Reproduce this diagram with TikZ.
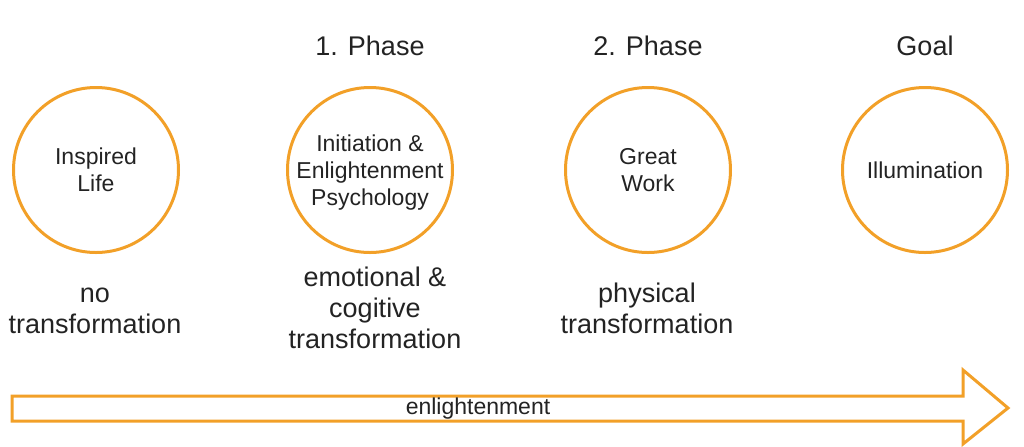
\documentclass[tikz,border=0pt]{standalone}
\usepackage{fontspec}
\setmainfont{Liberation Sans}
\usetikzlibrary{positioning}
\definecolor{stageorange}{RGB}{242,160,40}
\definecolor{inkgray}{RGB}{35,35,35}

\begin{document}
\begin{tikzpicture}[x=0.5pt,y=-0.5pt,text=inkgray,
    stage/.style={circle, draw=stageorange, line width=1.5pt, minimum size=82.5pt,
      inner sep=0pt, align=center, text depth=0pt, font=\fontsize{11.5}{13.5}\selectfont},
    phase/.style={inner sep=0pt, font=\fontsize{13.5}{15.5}\selectfont},
    change/.style={inner sep=0pt, align=center, anchor=base, font=\fontsize{13.5}{15.5}\selectfont}]
    \useasboundingbox (0,0) rectangle (1024,446);
    % stages
    \node[stage] (life) at (96,170) {Inspired\\Life};
    \node[stage] (initiation) at (370,170) {Initiation \&\\Enlightenment\\Psychology};
    \node[stage] (greatwork) at (648,170) {Great\\Work};
    \node[stage] (illumination) at (925,170) {Illumination};
    % headings
    \node[phase, above=15pt of initiation] (phaseone) {1. Phase};
    \node[phase, above=15pt of greatwork] (phasetwo) {2. Phase};
    \node[phase, above=15pt of illumination] (goal) {Goal};
    % kind of transformation (base = last line)
    \node[change] (capnone) at (95,333) {no\\transformation};
    \node[change] (capemo) at (375,348) {emotional \&\\cogitive\\transformation};
    \node[change] (capphys) at (647,333) {physical\\transformation};
    % enlightenment arrow
    \draw[stageorange, line width=1.5pt, line join=miter]
      (12,396) -- (963,396) -- (963,370) -- (1008,408) -- (963,444) -- (963,421) -- (12,421) -- cycle;
    \node[inner sep=0pt, font=\fontsize{11.5}{13.5}\selectfont] (flowlabel) at (478,409) {enlightenment};
\end{tikzpicture}
\end{document}
